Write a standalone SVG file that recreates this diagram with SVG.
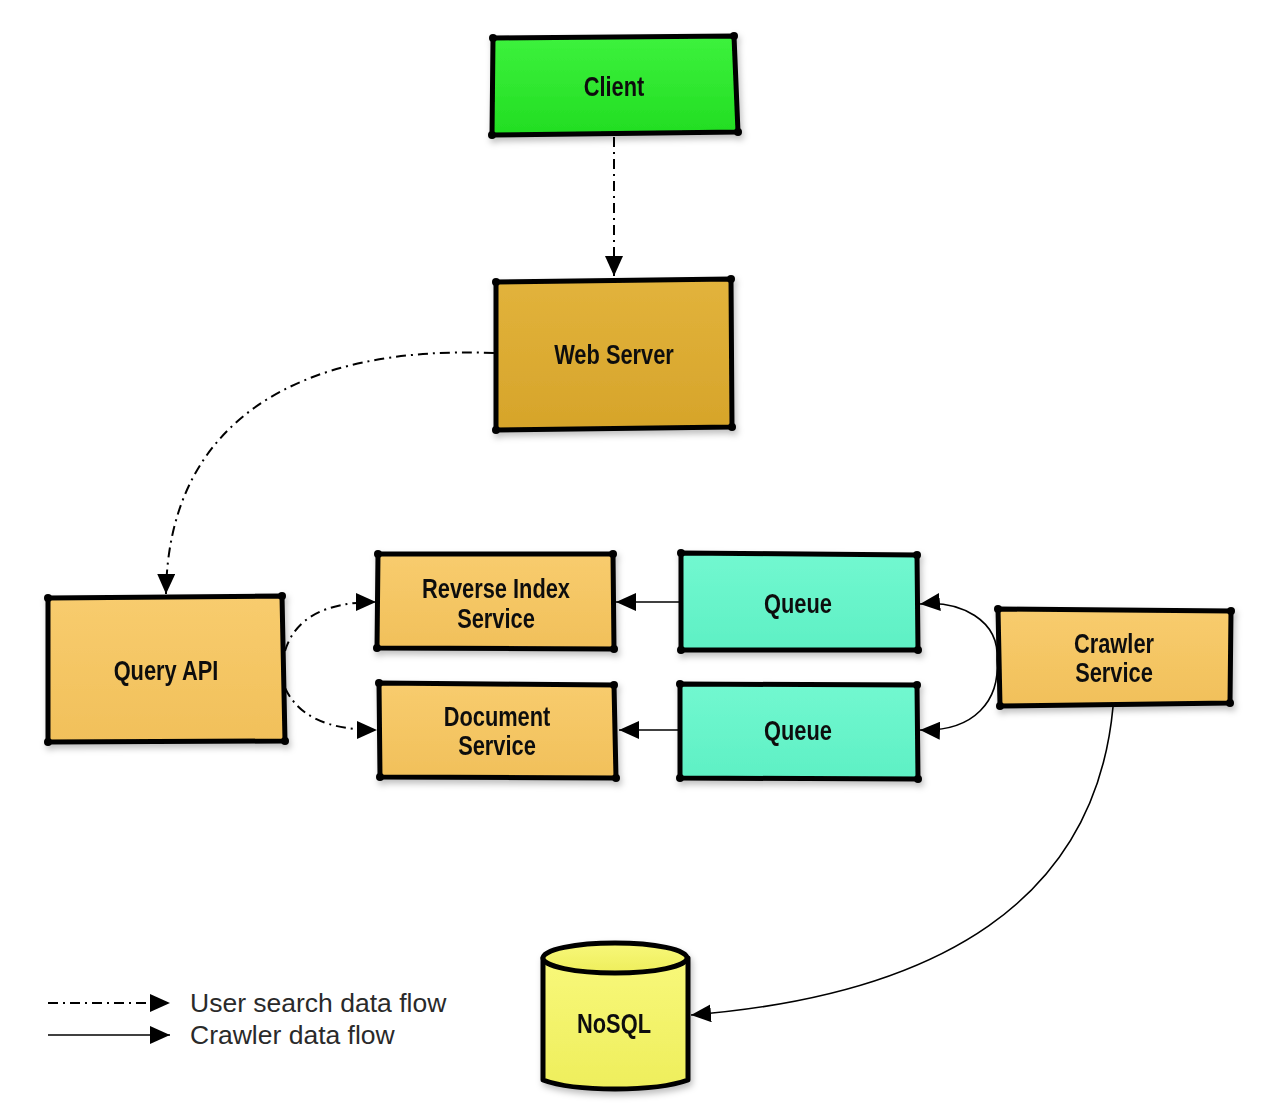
<svg xmlns="http://www.w3.org/2000/svg" width="1280" height="1118" viewBox="0 0 1280 1118">
<defs>
<style>
.box{stroke:#000;stroke-width:5;stroke-linejoin:round}
.lbl{font-family:"Liberation Sans",Arial,sans-serif;font-weight:bold;font-size:28px;fill:#111;text-anchor:middle}
.leg{font-family:"Liberation Sans","DejaVu Sans",sans-serif;font-size:26.5px;fill:#2a2a2a}
.dd{fill:none;stroke:#000;stroke-width:2;stroke-dasharray:10 5 2 5}
.sl{fill:none;stroke:#000;stroke-width:1.6}
.dot{fill:#000}
</style>
<marker id="ah" markerUnits="userSpaceOnUse" markerWidth="22" markerHeight="18" refX="20" refY="9" orient="auto">
<path d="M0,0 L20,9 L0,18 Z" fill="#000"/>
</marker>
<filter id="sh" x="-10%" y="-10%" width="120%" height="130%">
<feDropShadow dx="2" dy="4" stdDeviation="3" flood-color="#000" flood-opacity="0.25"/>
</filter>
<linearGradient id="gGreen" x1="0" y1="0" x2="0" y2="1"><stop offset="0" stop-color="#3df23d"/><stop offset="1" stop-color="#22dd22"/></linearGradient>
<linearGradient id="gWeb" x1="0" y1="0" x2="0" y2="1"><stop offset="0" stop-color="#e2b33c"/><stop offset="1" stop-color="#d6a42a"/></linearGradient>
<linearGradient id="gOr" x1="0" y1="0" x2="0" y2="1"><stop offset="0" stop-color="#f8cc6e"/><stop offset="1" stop-color="#f1c05a"/></linearGradient>
<linearGradient id="gQ" x1="0" y1="0" x2="0" y2="1"><stop offset="0" stop-color="#72f8d0"/><stop offset="1" stop-color="#5ef0c4"/></linearGradient>
<linearGradient id="gY" x1="0" y1="0" x2="0" y2="1"><stop offset="0" stop-color="#f8f87a"/><stop offset="1" stop-color="#eeee5c"/></linearGradient>
</defs>
<rect width="1280" height="1118" fill="#fff"/>

<g id="connectors">
<path class="dd" d="M614,137 L614,276" marker-end="url(#ah)"/>
<path class="dd" d="M494,353 C300,345 168,420 166,594" marker-end="url(#ah)"/>
<path class="dd" d="M285,651 C295,618 325,602 376,602" marker-end="url(#ah)"/>
<path class="dd" d="M285,688 C298,715 325,730 377,730" marker-end="url(#ah)"/>
<path class="sl" d="M680,602 L616,602" marker-end="url(#ah)"/>
<path class="sl" d="M679,730 L619,730" marker-end="url(#ah)"/>
<path class="sl" d="M997,660 C1000,620 960,600 920,604" marker-end="url(#ah)"/>
<path class="sl" d="M997,660 C1000,700 975,732 920,730" marker-end="url(#ah)"/>
<path class="sl" d="M1113,707 C1095,900 940,995 691,1015" marker-end="url(#ah)"/>
</g>

<g id="client" filter="url(#sh)">
<path class="box" d="M493,38 L734,36 L738,132 L492,135 Z" fill="url(#gGreen)"/>
<circle class="dot" cx="493" cy="38" r="4"/><circle class="dot" cx="734" cy="36" r="4"/><circle class="dot" cx="738" cy="132" r="4"/><circle class="dot" cx="492" cy="135" r="4"/>
<text class="lbl" transform="translate(614,96) scale(0.78,1)">Client</text>
</g>

<g id="webserver" filter="url(#sh)">
<path class="box" d="M496,282 L731,279 L732,427 L496,430 Z" fill="url(#gWeb)"/>
<circle class="dot" cx="496" cy="282" r="4"/><circle class="dot" cx="731" cy="279" r="4"/><circle class="dot" cx="732" cy="427" r="4"/><circle class="dot" cx="496" cy="430" r="4"/>
<text class="lbl" transform="translate(614,364) scale(0.78,1)">Web Server</text>
</g>

<g id="queryapi" filter="url(#sh)">
<path class="box" d="M48,598 L282,596 L285,741 L48,742 Z" fill="url(#gOr)"/>
<circle class="dot" cx="48" cy="598" r="4"/><circle class="dot" cx="282" cy="596" r="4"/><circle class="dot" cx="285" cy="741" r="4"/><circle class="dot" cx="48" cy="742" r="4"/>
<text class="lbl" transform="translate(166,680) scale(0.78,1)">Query API</text>
</g>

<g id="reverseindex" filter="url(#sh)">
<path class="box" d="M378,554 L613,554 L614,649 L377,648 Z" fill="url(#gOr)"/>
<circle class="dot" cx="378" cy="554" r="4"/><circle class="dot" cx="613" cy="554" r="4"/><circle class="dot" cx="614" cy="649" r="4"/><circle class="dot" cx="377" cy="648" r="4"/>
<text class="lbl" transform="translate(496,598) scale(0.78,1)">Reverse Index</text>
<text class="lbl" transform="translate(496,628) scale(0.78,1)">Service</text>
</g>

<g id="document" filter="url(#sh)">
<path class="box" d="M379,683 L614,685 L616,778 L380,777 Z" fill="url(#gOr)"/>
<circle class="dot" cx="379" cy="683" r="4"/><circle class="dot" cx="614" cy="685" r="4"/><circle class="dot" cx="616" cy="778" r="4"/><circle class="dot" cx="380" cy="777" r="4"/>
<text class="lbl" transform="translate(497,726) scale(0.78,1)">Document</text>
<text class="lbl" transform="translate(497,755) scale(0.78,1)">Service</text>
</g>

<g id="queue1" filter="url(#sh)">
<path class="box" d="M681,553 L917,555 L918,650 L681,650 Z" fill="url(#gQ)"/>
<circle class="dot" cx="681" cy="553" r="4"/><circle class="dot" cx="917" cy="555" r="4"/><circle class="dot" cx="918" cy="650" r="4"/><circle class="dot" cx="681" cy="650" r="4"/>
<text class="lbl" transform="translate(798,613) scale(0.78,1)">Queue</text>
</g>

<g id="queue2" filter="url(#sh)">
<path class="box" d="M680,684 L917,685 L918,779 L680,778 Z" fill="url(#gQ)"/>
<circle class="dot" cx="680" cy="684" r="4"/><circle class="dot" cx="917" cy="685" r="4"/><circle class="dot" cx="918" cy="779" r="4"/><circle class="dot" cx="680" cy="778" r="4"/>
<text class="lbl" transform="translate(798,740) scale(0.78,1)">Queue</text>
</g>

<g id="crawler" filter="url(#sh)">
<path class="box" d="M998,609 L1231,611 L1230,703 L1000,706 Z" fill="url(#gOr)"/>
<circle class="dot" cx="998" cy="609" r="4"/><circle class="dot" cx="1231" cy="611" r="4"/><circle class="dot" cx="1230" cy="703" r="4"/><circle class="dot" cx="1000" cy="706" r="4"/>
<text class="lbl" transform="translate(1114,653) scale(0.78,1)">Crawler</text>
<text class="lbl" transform="translate(1114,682) scale(0.78,1)">Service</text>
</g>

<g id="nosql" filter="url(#sh)">
<path class="box" d="M543,958 L543,1080 C575,1092 655,1092 688,1080 L688,958 Z" fill="url(#gY)"/>
<ellipse class="box" cx="615" cy="958" rx="72" ry="15" fill="url(#gY)"/>
<text class="lbl" transform="translate(614,1033) scale(0.78,1)">NoSQL</text>
</g>

<g id="legend">
<path class="dd" d="M48,1003 L170,1003" marker-end="url(#ah)"/>
<path class="sl" d="M48,1035 L170,1035" marker-end="url(#ah)"/>
<text class="leg" x="190" y="1012">User search data flow</text>
<text class="leg" x="190" y="1044">Crawler data flow</text>
</g>
</svg>
